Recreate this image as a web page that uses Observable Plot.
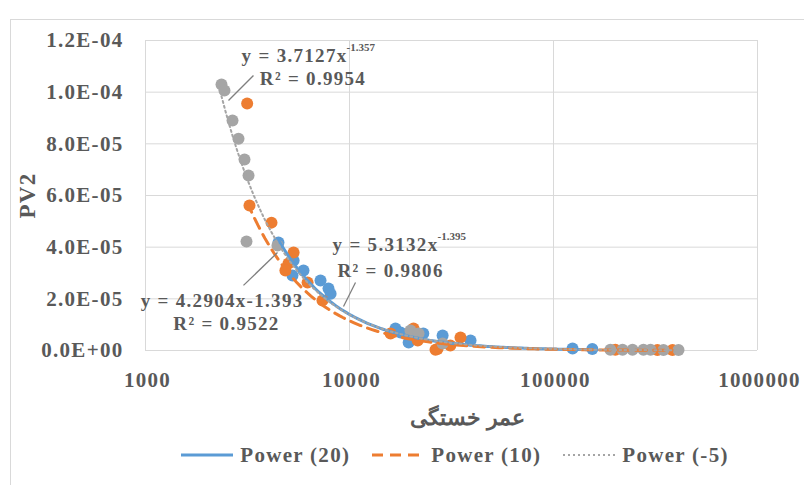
<!DOCTYPE html>
<html><head><meta charset="utf-8">
<script src="https://cdn.jsdelivr.net/npm/d3@7"></script>
<script src="https://cdn.jsdelivr.net/npm/@observablehq/plot@0.6"></script>
<style>
body{margin:0;background:#fff;width:804px;height:485px;overflow:hidden;position:relative;font-family:"Liberation Serif","DejaVu Serif",serif;}
#frame{position:absolute;left:10px;top:19px;width:800px;height:470px;border-left:1px solid #d9d9d9;border-top:1px solid #d9d9d9;}
#chart{position:absolute;left:0;top:0;}
#chart svg text{letter-spacing:1.3px;}
#legend{position:absolute;left:104px;top:435px;width:700px;height:40px;display:flex;justify-content:center;align-items:center;font-weight:bold;font-size:21px;color:#595959;letter-spacing:1.3px;}
#legend .it{display:flex;align-items:center;margin:0 10px;}
#legend svg{margin-right:5px;}
</style></head><body>
<div id="frame"></div>
<div id="chart"></div>
<div id="legend"></div>
<script>
// ---- data ----
const series = ["Power (20)", "Power (10)", "Power (-5)"];
const colors = ["#5b9bd5", "#ed7d31", "#a5a5a5"];

const blueX = [4487, 5255, 5950, 7210, 7890, 8080, 5320, 16800, 17800, 19500, 23000, 28600, 39200, 124000, 155000];
const blueY = [4.18e-5, 2.9e-5, 3.1e-5, 2.71e-5, 2.4e-5, 2.2e-5, 3.48e-5, 8.5e-6, 7.0e-6, 3.1e-6, 6.6e-6, 5.8e-6, 3.9e-6, 8e-7, 6e-7];

const orangeX = [3150, 3234, 4146, 5320, 5020, 4850, 6230, 7370, 15900, 20600, 21600, 26400, 27000, 35000, 31200, 201000, 323000, 383000];
const orangeY = [9.56e-5, 5.61e-5, 4.95e-5, 3.79e-5, 3.37e-5, 3.1e-5, 2.63e-5, 1.94e-5, 6.6e-6, 8.5e-6, 3.9e-6, 3e-7, 6e-7, 5.0e-6, 1.9e-6, 3e-7, 2e-7, 2e-7];

const grayX = [2358, 2438, 2670, 2857, 3057, 3199, 3127, 4436, 19900, 21800, 28600, 190000, 218000, 244000, 276000, 299000, 346000, 410000];
const grayY = [1.03e-4, 1.006e-4, 8.9e-5, 8.2e-5, 7.39e-5, 6.77e-5, 4.22e-5, 4.06e-5, 7.7e-6, 6.6e-6, 2.7e-6, 3e-7, 3e-7, 3e-7, 3e-7, 3e-7, 2e-7, 2e-7];

// power trendline equations shown on the chart (y = a x^b)
const trendA = [5.3132, 4.2904, 3.7127];
const trendB = [-1.395, -1.393, -1.357];

const xTicks = [1000, 10000, 100000, 1000000];
const yTicks = [0, 2e-5, 4e-5, 6e-5, 8e-5, 1e-4, 1.2e-4];

const xTitle = "عمر خستگی";
const yTitle = "PV2";

// equation labels (anchor in data units; first line right-anchored)
const eqBase = ["y = 5.3132x", "y = 4.2904x-1.393", "y = 3.7127x"];
const eqExp = ["-1.395", "", "-1.357"];
const eqR2 = ["R² = 0.9806", "R² = 0.9522", "R² = 0.9954"];
const eqX = [27300, 5950, 9777];
const eqY = [4.10e-5, 1.935e-5, 1.142e-4];
const r2X = [15890, 2495, 6623];
const r2Y = [3.10e-5, 1.045e-5, 1.053e-4];
const leadX1 = [10700, 3022, 3383];
const leadY1 = [2.63e-5, 2.52e-5, 1.0645e-4];
const leadX2 = [9346, 4436, 2552];
const leadY2 = [1.70e-5, 3.79e-5, 9.68e-5];

// ---- build ----
const xs = [blueX, orangeX, grayX], ys = [blueY, orangeY, grayY];
const points = [];
series.forEach((s, i) => xs[i].forEach((x, j) => points.push({s, x, y: ys[i][j]})));
const trend = [];
series.forEach((s, i) => {
  const [lo, hi] = d3.extent(xs[i]);
  const n = 120;
  for (let k = 0; k <= n; k++) {
    const x = Math.exp(Math.log(lo) + (Math.log(hi) - Math.log(lo)) * k / n);
    trend.push({s, x, y: trendA[i] * Math.pow(x, trendB[i])});
  }
});
const ann = eqBase.map((t, i) => ({t, e: eqExp[i], r: eqR2[i], x: eqX[i], y: eqY[i], rx: r2X[i], ry: r2Y[i], x1: leadX1[i], y1: leadY1[i], x2: leadX2[i], y2: leadY2[i]}));

const fmtY = d => {
  const [m, e] = d.toExponential(1).split("e");
  const n = +e;
  return m + "E" + (n < 0 ? "-" : "+") + String(Math.abs(n)).padStart(2, "0");
};

const font = "Liberation Serif, DejaVu Serif, serif";
const txt = "#595959";
const dashes = [null, "11,7", "2,3"];
const widths = [3, 3, 2];

const plot = Plot.plot({
  width: 804, height: 435,
  marginLeft: 145, marginRight: 47, marginTop: 40, marginBottom: 85,
  style: {fontFamily: font, fontSize: "21px", fontWeight: "bold", color: txt, background: "transparent", overflow: "visible"},
  x: {type: "log", domain: [1000, 1000000], ticks: xTicks, tickFormat: d => String(d), label: null},
  y: {domain: [0, 1.2e-4], ticks: yTicks, tickFormat: fmtY, label: null},
  marks: [
    Plot.gridX(xTicks, {stroke: "#d9d9d9", strokeOpacity: 1, strokeWidth: 1}),
    Plot.gridY(yTicks, {stroke: "#d9d9d9", strokeOpacity: 1, strokeWidth: 1}),
    Plot.axisX(xTicks, {tickSize: 0, tickPadding: 22, tickFormat: d => String(d), fill: txt, label: null, dx: 2}),
    Plot.axisY(yTicks, {tickSize: 0, tickPadding: 22, tickFormat: fmtY, fill: txt, label: null}),
    Plot.dot(points, {x: "x", y: "y", r: 6, fill: d => colors[series.indexOf(d.s)], stroke: null}),
    ...series.map((s, i) => Plot.line(trend.filter(d => d.s === s), {x: "x", y: "y", stroke: colors[i], strokeWidth: widths[i], strokeDasharray: dashes[i]})),
    Plot.link(ann, {x1: "x1", y1: "y1", x2: "x2", y2: "y2", stroke: "#7f7f7f", strokeWidth: 1.3}),
    Plot.text(ann, {x: "x", y: "y", text: "t", textAnchor: "end", fill: txt, fontSize: 19, fontWeight: "bold"}),
    Plot.text(ann, {x: "x", y: "y", text: "e", textAnchor: "start", dx: -1, dy: -8, fill: txt, fontSize: 11, fontWeight: "bold"}),
    Plot.text(ann, {x: "rx", y: "ry", text: "r", textAnchor: "middle", fill: txt, fontSize: 19, fontWeight: "bold"}),
    Plot.text([xTitle], {frameAnchor: "bottom", text: d => d, dy: 74, dx: 16, fill: txt, fontSize: 22, fontWeight: "bold"}),
    Plot.text([yTitle], {frameAnchor: "left", text: d => d, textAnchor: "middle", rotate: -90, dx: -118, fill: txt, fontSize: 23, fontWeight: "bold"})
  ]
});
document.getElementById("chart").appendChild(plot);
// Arabic must not be letter-spaced (keeps the joined script intact); superscripts tight
d3.select(plot).selectAll("text").filter(function () { return /[\u0600-\u06FF]/.test(this.textContent) || /^-1\.\d+$/.test(this.textContent); })
  .style("letter-spacing", "0px");

// legend
const leg = document.getElementById("legend");
series.forEach((s, i) => {
  const it = document.createElement("div"); it.className = "it";
  const sv = d3.create("svg").attr("width", 56).attr("height", 10);
  sv.append("line").attr("x1", 2).attr("x2", 54).attr("y1", 5).attr("y2", 5)
    .attr("stroke", colors[i]).attr("stroke-width", widths[i]).attr("stroke-dasharray", dashes[i]);
  it.appendChild(sv.node());
  const sp = document.createElement("span"); sp.textContent = s;
  it.appendChild(sp);
  leg.appendChild(it);
});
</script>
</body></html>
